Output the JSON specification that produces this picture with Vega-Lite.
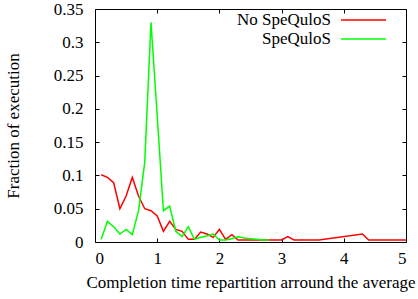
{
  "$schema": "https://vega.github.io/schema/vega-lite/v6.json",
  "width": 311,
  "height": 233,
  "autosize": {"type": "none"},
  "padding": {"left": 95, "top": 9, "right": 12, "bottom": 57},
  "background": "white",
  "config": {
    "font": "Liberation Serif",
    "view": {"stroke": "black", "strokeWidth": 1},
    "axis": {
      "labelFont": "Liberation Serif",
      "titleFont": "Liberation Serif",
      "labelFontSize": 17,
      "titleFontSize": 17,
      "titleFontWeight": "normal",
      "labelColor": "black",
      "titleColor": "black",
      "domain": false,
      "grid": false,
      "tickColor": "black",
      "tickSize": -4,
      "tickWidth": 1
    },
    "legend": {
      "orient": "none",
      "legendX": 260,
      "legendY": 2.5,
      "padding": 0,
      "symbolType": "M-4.5,0H4.5",
      "symbolSize": 100,
      "symbolStrokeWidth": 1.5,
      "labelAlign": "right",
      "labelBaseline": "middle",
      "labelOffset": -41,
      "labelFont": "Liberation Serif",
      "labelFontSize": 17,
      "labelColor": "black",
      "rowPadding": 1
    }
  },
  "datasets": {
    "d": [
      {"series": "No SpeQuloS", "x": 0.1, "y": 0.101},
      {"series": "No SpeQuloS", "x": 0.2, "y": 0.097},
      {"series": "No SpeQuloS", "x": 0.3, "y": 0.089},
      {"series": "No SpeQuloS", "x": 0.4, "y": 0.050},
      {"series": "No SpeQuloS", "x": 0.5, "y": 0.069},
      {"series": "No SpeQuloS", "x": 0.6, "y": 0.097},
      {"series": "No SpeQuloS", "x": 0.7, "y": 0.069},
      {"series": "No SpeQuloS", "x": 0.8, "y": 0.050},
      {"series": "No SpeQuloS", "x": 0.9, "y": 0.047},
      {"series": "No SpeQuloS", "x": 1.0, "y": 0.039},
      {"series": "No SpeQuloS", "x": 1.1, "y": 0.016},
      {"series": "No SpeQuloS", "x": 1.2, "y": 0.031},
      {"series": "No SpeQuloS", "x": 1.3, "y": 0.019},
      {"series": "No SpeQuloS", "x": 1.4, "y": 0.016},
      {"series": "No SpeQuloS", "x": 1.5, "y": 0.004},
      {"series": "No SpeQuloS", "x": 1.6, "y": 0.004},
      {"series": "No SpeQuloS", "x": 1.7, "y": 0.015},
      {"series": "No SpeQuloS", "x": 1.8, "y": 0.012},
      {"series": "No SpeQuloS", "x": 1.9, "y": 0.007},
      {"series": "No SpeQuloS", "x": 2.0, "y": 0.019},
      {"series": "No SpeQuloS", "x": 2.1, "y": 0.004},
      {"series": "No SpeQuloS", "x": 2.2, "y": 0.011},
      {"series": "No SpeQuloS", "x": 2.3, "y": 0.003},
      {"series": "No SpeQuloS", "x": 2.5, "y": 0.003},
      {"series": "No SpeQuloS", "x": 2.7, "y": 0.003},
      {"series": "No SpeQuloS", "x": 2.9, "y": 0.003},
      {"series": "No SpeQuloS", "x": 3.0, "y": 0.003},
      {"series": "No SpeQuloS", "x": 3.1, "y": 0.008},
      {"series": "No SpeQuloS", "x": 3.2, "y": 0.003},
      {"series": "No SpeQuloS", "x": 3.4, "y": 0.003},
      {"series": "No SpeQuloS", "x": 3.6, "y": 0.003},
      {"series": "No SpeQuloS", "x": 4.3, "y": 0.012},
      {"series": "No SpeQuloS", "x": 4.4, "y": 0.003},
      {"series": "No SpeQuloS", "x": 4.6, "y": 0.003},
      {"series": "No SpeQuloS", "x": 4.8, "y": 0.003},
      {"series": "No SpeQuloS", "x": 5.0, "y": 0.003},
      {"series": "SpeQuloS", "x": 0.1, "y": 0.004},
      {"series": "SpeQuloS", "x": 0.2, "y": 0.031},
      {"series": "SpeQuloS", "x": 0.3, "y": 0.023},
      {"series": "SpeQuloS", "x": 0.4, "y": 0.012},
      {"series": "SpeQuloS", "x": 0.5, "y": 0.019},
      {"series": "SpeQuloS", "x": 0.6, "y": 0.011},
      {"series": "SpeQuloS", "x": 0.7, "y": 0.047},
      {"series": "SpeQuloS", "x": 0.8, "y": 0.12},
      {"series": "SpeQuloS", "x": 0.9, "y": 0.33},
      {"series": "SpeQuloS", "x": 1.0, "y": 0.19},
      {"series": "SpeQuloS", "x": 1.1, "y": 0.047},
      {"series": "SpeQuloS", "x": 1.2, "y": 0.054},
      {"series": "SpeQuloS", "x": 1.3, "y": 0.016},
      {"series": "SpeQuloS", "x": 1.4, "y": 0.008},
      {"series": "SpeQuloS", "x": 1.5, "y": 0.023},
      {"series": "SpeQuloS", "x": 1.6, "y": 0.004},
      {"series": "SpeQuloS", "x": 1.7, "y": 0.007},
      {"series": "SpeQuloS", "x": 1.8, "y": 0.009},
      {"series": "SpeQuloS", "x": 1.9, "y": 0.012},
      {"series": "SpeQuloS", "x": 2.0, "y": 0.003},
      {"series": "SpeQuloS", "x": 2.1, "y": 0.003},
      {"series": "SpeQuloS", "x": 2.2, "y": 0.005},
      {"series": "SpeQuloS", "x": 2.3, "y": 0.008},
      {"series": "SpeQuloS", "x": 2.4, "y": 0.006},
      {"series": "SpeQuloS", "x": 2.5, "y": 0.005},
      {"series": "SpeQuloS", "x": 2.6, "y": 0.004},
      {"series": "SpeQuloS", "x": 2.7, "y": 0.003},
      {"series": "SpeQuloS", "x": 2.8, "y": 0.003}
    ]
  },
  "layer": [
    {
      "data": {"name": "d"},
      "mark": {"type": "line", "strokeWidth": 1.5},
      "encoding": {
        "x": {
          "field": "x", "type": "quantitative",
          "scale": {"domain": [0, 5], "nice": false},
          "axis": {"values": [0, 1, 2, 3, 4, 5], "title": "Completion time repartition arround the average", "labelPadding": 12, "titlePadding": 8}
        },
        "y": {
          "field": "y", "type": "quantitative",
          "scale": {"domain": [0, 0.35], "nice": false},
          "axis": {"values": [0, 0.05, 0.1, 0.15, 0.2, 0.25, 0.3, 0.35], "labelExpr": "format(datum.value, '~g')", "title": "Fraction of execution", "labelPadding": 16, "titlePadding": 31}
        },
        "color": {
          "field": "series", "type": "nominal",
          "scale": {"domain": ["No SpeQuloS", "SpeQuloS"], "range": ["#ff0000", "#00ff00"]},
          "legend": {"title": null}
        }
      }
    },
    {
      "data": {"name": "d"},
      "mark": {"type": "line", "opacity": 0},
      "encoding": {
        "x": {"field": "x", "type": "quantitative", "axis": {"orient": "top", "values": [0, 1, 2, 3, 4, 5], "labels": false, "title": null}},
        "y": {"field": "y", "type": "quantitative", "axis": {"orient": "right", "values": [0, 0.05, 0.1, 0.15, 0.2, 0.25, 0.3, 0.35], "labels": false, "title": null}},
        "detail": {"field": "series", "type": "nominal"}
      }
    }
  ],
  "resolve": {"axis": {"x": "independent", "y": "independent"}}
}
